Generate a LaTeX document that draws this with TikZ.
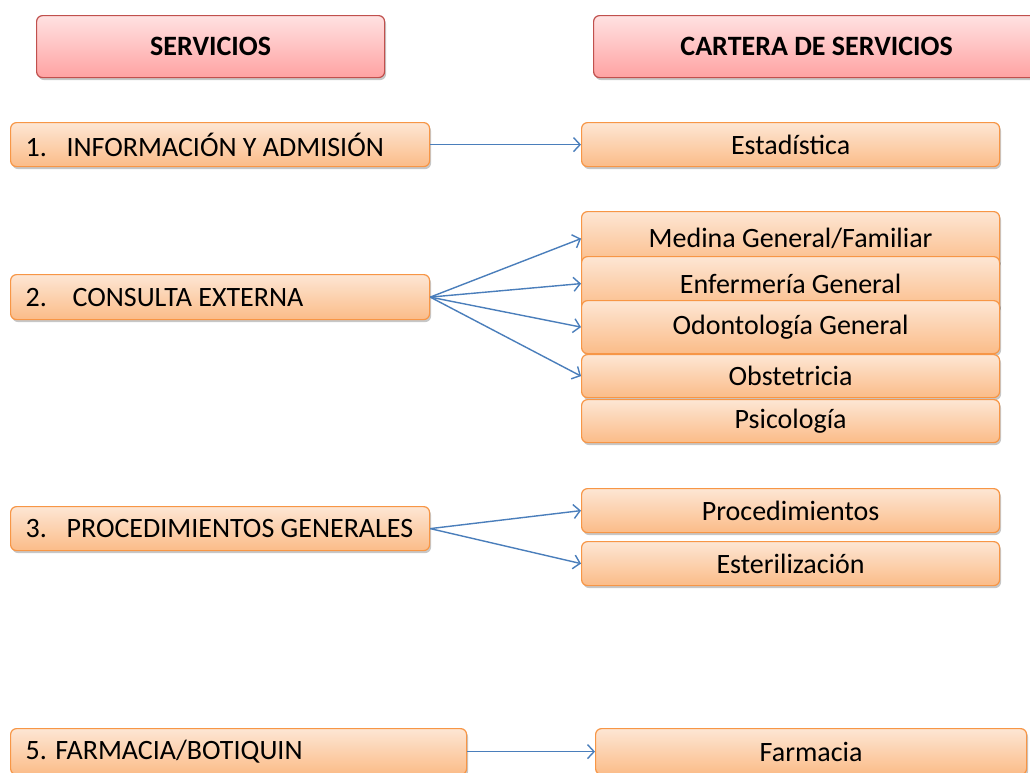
\documentclass[tikz,border=0pt]{standalone}
\usepackage{fontspec}
\setmainfont{Carlito}
\usetikzlibrary{arrows.meta,shadows}
\definecolor{pinkB}{RGB}{192,80,77}
\definecolor{pinkT}{RGB}{255,226,226}
\definecolor{pinkBo}{RGB}{255,162,162}
\definecolor{orB}{RGB}{247,150,70}
\definecolor{orT}{RGB}{253,230,212}
\definecolor{orBo}{RGB}{251,188,136}
\definecolor{arr}{RGB}{74,126,187}
\begin{document}
\begin{tikzpicture}[x=1pt,y=-1pt,
 base/.style={rounded corners=6pt, line width=1.2pt, anchor=north west, inner sep=0pt,
   font=\fontsize{28}{32}\selectfont,
   drop shadow={shadow xshift=1.5pt, shadow yshift=-2.5pt, opacity=0.22, fill=black}},
 hdr/.style={base, draw=pinkB, top color=pinkT, bottom color=pinkBo, font=\fontsize{28}{32}\selectfont\bfseries},
 obox/.style={base, draw=orB, top color=orT, bottom color=orBo},
 lbox/.style={obox, inner xsep=15pt},
 link/.style={draw=arr, line width=1.4pt, -{Straight Barb[length=6.5pt,width=14pt]}}]
\useasboundingbox (0,0) rectangle (1030,772);
\fill[white] (0,0) rectangle (1030,772);

\node[hdr, minimum width=348, minimum height=62] (h1) at (36,15) {SERVICIOS};
\node[hdr, minimum width=446, minimum height=62] (h2) at (593,15) {CARTERA DE SERVICIOS};

\node[lbox, minimum height=44] (s1) at (10,122) {\makebox[389pt][l]{\makebox[41pt][l]{1.}INFORMACIÓN Y ADMISIÓN}};
\node[lbox, minimum height=45] (s2) at (10,274) {\makebox[389pt][l]{\makebox[47pt][l]{2.}CONSULTA EXTERNA}};
\node[lbox, minimum height=44] (s3) at (10,506) {\makebox[389pt][l]{\makebox[41pt][l]{3.}PROCEDIMIENTOS GENERALES}};
\node[lbox, minimum height=46] (s5) at (10,728) {\makebox[426pt][l]{5. FARMACIA/BOTIQUIN}};

\node[obox, minimum width=418, minimum height=44] (c1) at (581,122) {Estadística};
\node[obox, minimum width=418, minimum height=54] (c2) at (581,211) {Medina General/Familiar};
\node[obox, minimum width=418, minimum height=54] (c3) at (581,256) {Enfermería General};
\node[obox, minimum width=418, minimum height=53] (c4) at (581,300) {Odontología General};
\node[obox, minimum width=418, minimum height=43] (c5) at (581,354) {Obstetricia};
\node[obox, minimum width=418, minimum height=43] (c6) at (581,399) {Psicología};
\node[obox, minimum width=418, minimum height=44] (c7) at (581,488) {Procedimientos};
\node[obox, minimum width=418, minimum height=44] (c8) at (581,541) {Esterilización};
\node[obox, minimum width=431, minimum height=46] (c9) at (595,728) {Farmacia};

\draw[link] (s1.east) -- (c1.west);
\draw[link] (s2.east) -- (c2.west);
\draw[link] (s2.east) -- (c3.west);
\draw[link] (s2.east) -- (c4.west);
\draw[link] (s2.east) -- (c5.west);
\draw[link] (s3.east) -- (c7.west);
\draw[link] (s3.east) -- (c8.west);
\draw[link] (s5.east) -- (c9.west);
\end{tikzpicture}
\end{document}
